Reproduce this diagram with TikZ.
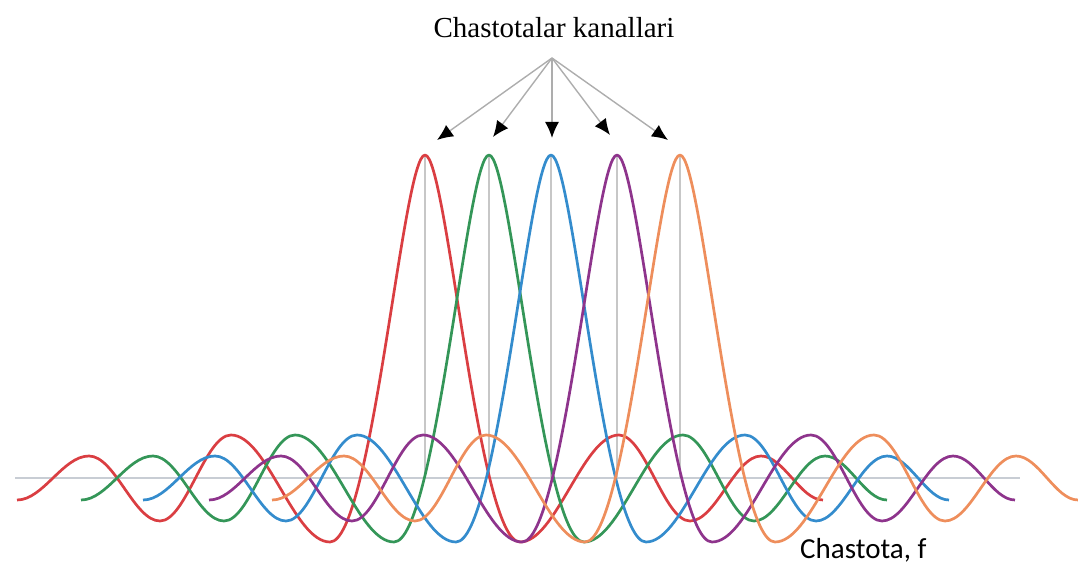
\documentclass[tikz,border=0pt]{standalone}
\usepackage{fontspec}
\setmainfont{Liberation Serif}
\newfontfamily\calibri{Carlito}
\usetikzlibrary{arrows.meta}

\definecolor{chred}{RGB}{218,62,66}
\definecolor{chgreen}{RGB}{52,150,88}
\definecolor{chblue}{RGB}{52,140,205}
\definecolor{chpurple}{RGB}{142,52,140}
\definecolor{chorange}{RGB}{238,142,92}
\definecolor{axisgray}{RGB}{200,205,212}

\begin{document}
\begin{tikzpicture}[x=1pt, y=1pt, >=Latex,
  wave/.style={line width=2.7pt, line join=round},
  guide/.style={line width=1.6pt, black!22},
  pointer/.style={line width=1.4pt, black!32, -{Latex[black, length=16pt, width=14pt]}}]
  \useasboundingbox (0,0) rectangle (1078,565);

  % frequency axis and carrier centres
  \draw[line width=2.5pt, axisgray] (15,87) -- (1020,87);
  \foreach \c in {425,489,551,617,680}
    \draw[guide] (\c,87) -- (\c,410);

  % sub-carrier spectra
  \foreach \c/\col in {425/chred, 489/chgreen, 551/chblue, 617/chpurple, 680/chorange}
    \draw[wave, \col, shift={(\c,87)}] (-408,-22) cos (-372,0) sin (-336,22)
      cos (-300.5,-10.5) sin (-265,-43) cos (-229.5,0) sin (-194,43)
      cos (-144.5,-10.5) sin (-95,-64)
      .. controls (-53,-64) and (-22,323) .. (0,323)
      .. controls (22,323) and (53,-64) .. (95,-64)
      cos (144.5,-10.5) sin (194,43) cos (229.5,0) sin (265,-43)
      cos (300.5,-10.5) sin (336,22) cos (367,0) sin (398,-22);

  % labels
  \node[font=\fontsize{29}{34}\selectfont, anchor=base] (title) at (554,527) {Chastotalar kanallari};
  \node[font=\calibri\fontsize{29}{34}\selectfont, anchor=base west, inner sep=0pt] (flabel) at (800,7) {Chastota, f};

  % pointers to the channels
  \coordinate (apex) at (552,507);
  \coordinate (ch1) at (437,425);
  \coordinate (ch2) at (493,428);
  \coordinate (ch3) at (552,427);
  \coordinate (ch4) at (610,430);
  \coordinate (ch5) at (668,425);
  \foreach \i in {1,...,5}
    \draw[pointer] (apex) -- (ch\i);
\end{tikzpicture}
\end{document}
